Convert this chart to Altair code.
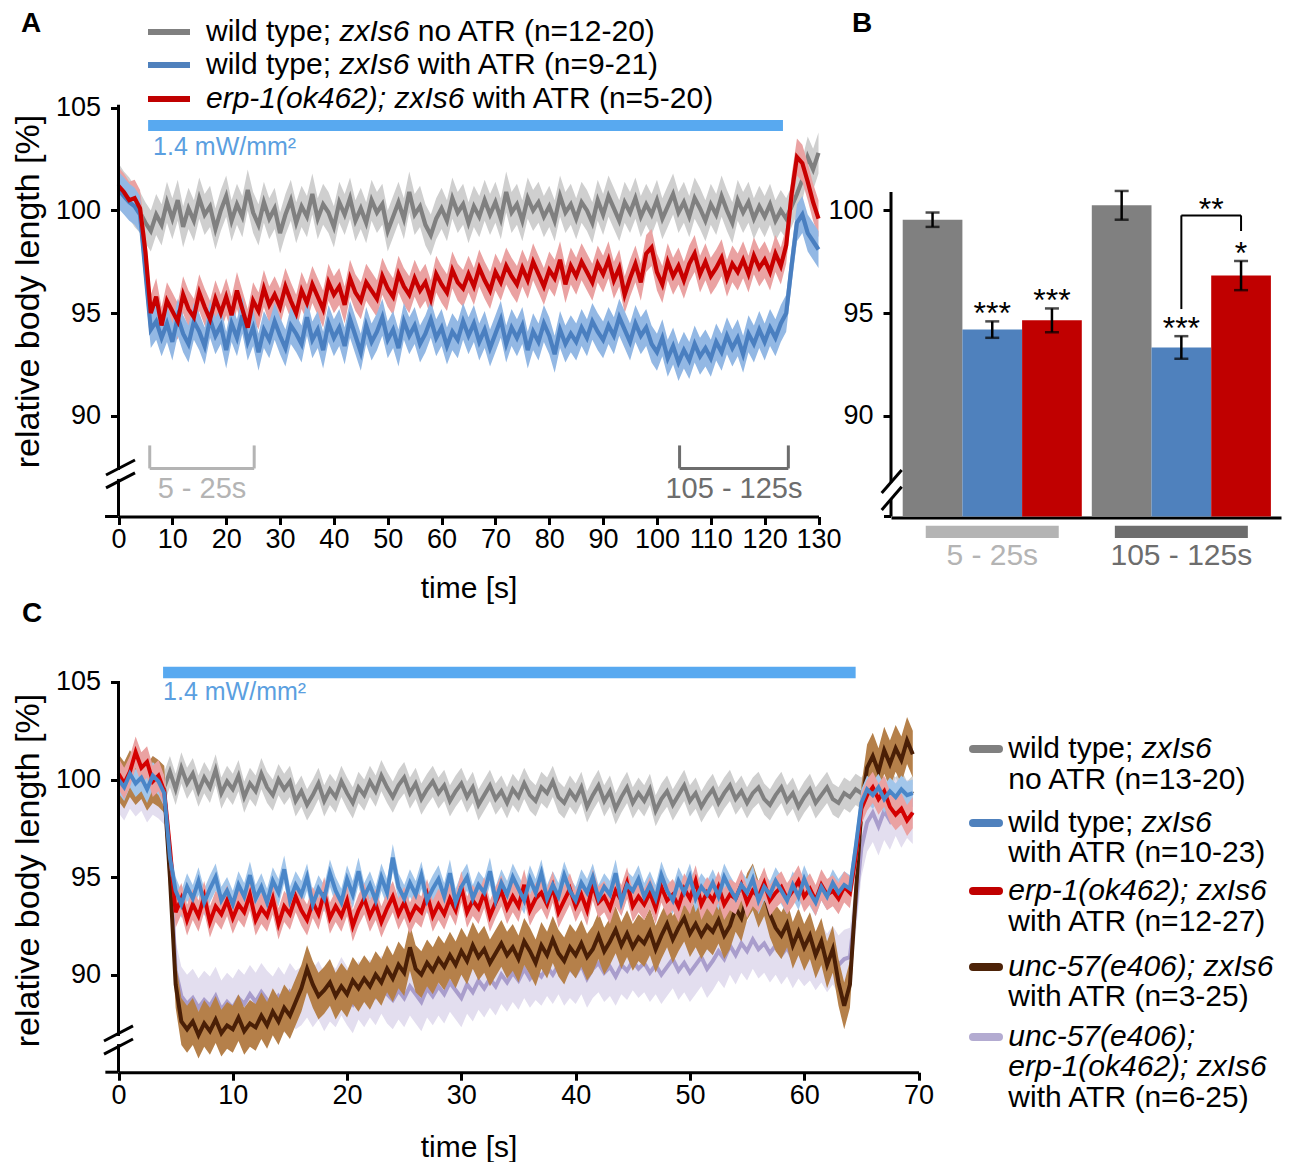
import altair as alt
import pandas as pd

FONT = "Liberation Sans"

# ================= Panel A data (time in s, relative body length in %) =================
time_A = list(range(0, 131))
gray_A = [
    101.3, 100.9, 100.6, 100.2, 99.9,
    99.4, 99.0, 99.8, 99.3, 100.4,
    99.6, 100.5, 99.2, 100.1, 99.5,
    100.6, 99.8, 100.2, 99.1, 100.0,
    100.7, 99.5, 100.3, 99.7, 101.0,
    99.9, 99.3, 100.4, 99.6, 100.1,
    98.9, 99.8, 100.5, 99.4, 100.2,
    99.7, 100.8, 99.6, 100.3, 99.9,
    99.2, 100.4, 99.8, 100.6, 99.5,
    100.1, 99.4, 100.5, 99.9, 100.3,
    99.0, 99.7, 100.4, 99.6, 100.9,
    99.8, 100.2, 99.3, 98.8, 99.6,
    100.1, 99.5, 100.6, 99.9, 100.3,
    99.4, 100.2, 99.7, 100.5, 99.8,
    100.4, 99.6, 100.9, 99.9, 100.3,
    99.5, 100.6, 100.0, 100.4, 99.7,
    100.2, 99.5, 100.7, 99.9, 100.3,
    99.6, 100.4, 100.0, 99.4, 100.5,
    99.8, 100.7, 100.1, 99.5, 100.4,
    99.9, 100.6, 99.7, 100.3, 99.8,
    100.5, 99.6, 100.2, 100.8, 99.9,
    100.4, 99.7, 100.6, 100.1, 99.5,
    100.3, 99.8, 100.7, 100.0, 99.4,
    100.5, 99.9, 100.4, 99.6, 100.2,
    99.7, 100.3, 99.5, 100.0, 99.6,
    100.2, 100.8, 101.5, 102.6, 102.0,
    102.8,
]
blue_A = [
    101.0, 100.7, 100.4, 100.2, 99.8,
    97.0, 94.2, 94.6, 93.8, 94.5,
    93.6, 94.8, 94.0, 93.5, 94.6,
    94.1, 93.4, 94.7, 93.9, 94.4,
    93.2, 94.5, 93.8, 94.9, 93.6,
    94.3, 93.1, 94.2, 93.7, 94.6,
    93.9, 93.3, 94.4, 94.0, 93.5,
    94.8, 93.7, 94.2, 93.2, 94.5,
    93.8, 94.3, 93.4, 94.7, 93.9,
    93.1, 94.4, 93.6, 94.1, 94.8,
    93.7, 94.2, 93.3, 94.6, 93.9,
    94.4, 93.5, 94.0, 94.7, 93.8,
    94.3, 93.4, 94.1, 93.7, 94.6,
    93.9, 94.5, 93.6, 94.2, 93.3,
    94.0, 94.7, 93.5, 94.3, 93.8,
    94.4, 93.2, 94.1, 93.6, 94.5,
    93.9, 93.0, 94.2, 93.5, 94.0,
    93.6, 94.3, 93.8, 94.6, 94.1,
    93.7, 94.4, 93.9, 94.8, 94.2,
    93.6, 94.5, 93.9, 94.3, 93.5,
    93.1, 93.8, 92.8, 93.4, 92.6,
    93.2, 92.7, 93.5, 92.9, 93.3,
    92.8, 93.6, 93.1, 93.9, 93.3,
    93.8, 93.0, 94.0, 93.5, 94.2,
    93.6, 94.3, 93.8, 94.5, 95.0,
    97.3, 99.4, 99.8, 98.9, 98.5,
    98.1,
]
red_A = [
    101.2, 100.9, 100.5, 100.6, 100.1,
    98.0, 95.0, 95.8, 94.4, 95.6,
    95.1, 94.6, 95.9, 95.2, 94.8,
    96.0, 95.3, 94.7, 95.7, 95.0,
    95.8, 94.9, 96.1, 95.2, 94.3,
    95.6, 95.1, 96.2, 95.4, 95.9,
    95.3, 96.3, 95.6, 95.0, 96.1,
    95.5, 96.4, 95.8, 95.2, 96.5,
    95.9, 96.3, 95.4, 96.7, 96.0,
    95.6, 96.5, 96.1, 95.7, 96.8,
    96.2, 95.8, 96.9, 96.3, 95.9,
    96.7, 96.1, 96.5, 95.7, 96.9,
    96.4, 96.0, 97.1, 96.5, 96.2,
    96.9, 96.3, 97.2, 96.6, 96.1,
    97.0, 96.5, 97.3, 96.8, 96.4,
    97.2, 96.6, 97.5, 96.9, 96.3,
    97.1, 96.7, 97.6, 96.4, 97.3,
    96.8, 97.5, 97.0, 96.5, 97.4,
    96.9, 97.6, 96.6, 97.2, 95.9,
    96.7, 97.4, 96.5, 97.9, 98.2,
    97.0, 96.4, 97.5, 96.8, 97.3,
    96.6, 97.4, 97.9, 96.9, 97.5,
    96.8, 97.2, 97.7, 96.7, 97.4,
    97.0, 97.6, 96.9, 97.8, 97.2,
    97.6, 97.0, 97.9, 97.3, 98.3,
    100.8, 102.6, 102.3, 101.4, 100.4,
    99.6,
]
sem_A = {"gray": 1.0, "blue": 0.9, "red": 0.9}
light_A = [5.5, 123.4]
windows_A = [[5.8, 25.2], [104.2, 124.4]]
window_labels = ["5 - 25s", "105 - 125s"]
window_colors = ["#b4b4b4", "#6d6d6d"]

# ================= Panel B data =================
groups_B = ["5 - 25s", "105 - 125s"]
geno_keys = ["gray", "blue", "red"]
mean_B_early = [99.55, 94.20, 94.65]
sem_B_early = [0.35, 0.40, 0.58]
mean_B_late = [100.25, 93.33, 96.83]
sem_B_late = [0.70, 0.55, 0.71]
stars_B_early = ["", "***", "***"]
stars_B_late = ["", "***", "*"]
sig_late = {"left": 95.2, "top": 99.76, "right": 99.0, "label": "**"}

# ================= Panel C data =================
time_C = [i * 0.5 for i in range(140)]
gray_C = [
    100.2, 99.8, 100.5, 100.0, 100.4, 99.7, 100.3, 100.1,
    99.6, 100.4, 99.5, 100.6, 99.8, 100.3, 99.4, 100.1, 99.6, 100.5, 99.3, 99.9,
    99.5, 100.2, 99.1, 99.8, 99.4, 100.3, 99.6, 99.2, 100.0, 99.5, 99.9, 98.9,
    99.4, 98.7, 99.2, 99.8, 98.9, 99.5, 99.1, 99.9, 99.3, 98.8, 99.6, 99.2,
    99.9, 99.4, 100.2, 99.6, 99.1, 99.7, 100.1, 99.3, 99.8, 99.0, 99.5, 99.9,
    99.3, 99.7, 98.9, 99.4, 99.8, 99.1, 99.6, 98.7, 99.2, 99.7, 99.0, 99.4,
    98.8, 99.5, 99.1, 99.8, 99.2, 98.9, 99.6, 99.3, 99.9, 99.1, 98.8, 99.4,
    99.0, 99.6, 98.6, 99.2, 99.7, 98.9, 99.4, 98.5, 99.1, 99.6, 98.8, 99.3,
    98.9, 99.5, 98.4, 99.0, 99.4, 98.7, 99.2, 99.7, 98.9, 99.3, 98.6, 99.1,
    99.5, 98.8, 99.3, 99.7, 99.0, 99.4, 98.8, 99.3, 99.6, 99.0, 98.7, 99.2,
    99.6, 98.9, 99.3, 98.6, 99.1, 99.5, 98.8, 99.2, 99.6, 99.0, 98.8, 99.3,
    99.1, 99.5, 99.3, 99.7, 99.4, 99.8, 99.2, 99.6, 99.3, 99.7, 99.1, 99.4,
]
blue_C = [
    100.0, 99.6, 100.3, 99.8, 100.1, 99.5, 100.2, 99.9,
    99.3, 96.0, 94.3, 93.6, 94.5, 93.9, 94.8, 93.7, 94.4, 95.0, 93.8, 94.3,
    93.6, 94.6, 94.0, 95.1, 93.9, 94.5, 93.7, 94.8, 94.2, 95.4, 93.8, 94.6,
    94.1, 95.0, 93.6, 94.4, 93.9, 95.2, 94.3, 93.7, 94.9, 94.1, 95.3, 94.0,
    94.6, 93.8, 95.0, 94.2, 96.0, 94.5, 93.9, 94.7, 94.1, 95.1, 93.8, 94.4,
    94.9, 94.0, 95.2, 93.7, 94.5, 95.0, 93.9, 94.6, 94.2, 95.3, 93.8, 94.7,
    94.1, 95.0, 94.4, 93.8, 94.9, 94.2, 95.2, 93.9, 94.6, 94.0, 95.1, 94.3,
    93.8, 94.7, 94.2, 95.0, 93.9, 94.5, 94.1, 95.2, 93.7, 94.6, 94.3, 94.9,
    94.0, 94.6, 93.9, 95.1, 94.3, 93.8, 94.8, 94.2, 95.0, 93.9, 94.5, 94.1,
    94.7, 94.0, 95.0, 94.4, 93.9, 94.6, 94.2, 94.9, 93.8, 94.5, 94.1, 94.8,
    94.3, 93.8, 94.6, 94.0, 94.9, 94.2, 93.7, 94.5, 94.0, 94.7, 94.2, 94.6,
    94.4, 96.5, 98.8, 99.5, 99.2, 99.6, 99.0, 99.4, 99.1, 99.5, 99.2, 99.3,
]
red_C = [
    100.3, 99.8, 100.4, 101.4, 100.6, 100.9, 99.9, 100.2,
    99.4, 96.5, 93.2, 93.9, 92.8, 93.6, 93.0, 94.0, 92.7, 93.5, 93.1, 93.8,
    92.9, 93.6, 93.2, 94.1, 92.8, 93.4, 93.0, 93.9, 92.6, 93.5, 93.1, 94.0,
    93.3, 92.8, 93.7, 93.1, 94.2, 92.9, 93.5, 93.0, 93.8, 92.5, 93.3, 93.9,
    93.0, 93.6, 92.7, 93.4, 94.0, 93.1, 93.7, 92.9, 93.5, 93.2, 94.1, 93.0,
    93.6, 93.1, 93.9, 93.3, 94.5, 93.2, 93.8, 93.4, 94.2, 93.0, 93.7, 94.3,
    93.4, 94.0, 93.5, 94.6, 93.3, 93.9, 94.2, 93.6, 94.5, 93.2, 93.8, 94.4,
    93.5, 94.1, 93.3, 94.6, 93.7, 94.0, 93.4, 94.3, 93.8, 94.7, 93.5, 94.0,
    93.6, 94.2, 93.4, 94.5, 93.8, 94.1, 93.5, 94.4, 93.9, 94.8, 93.6, 94.2,
    93.8, 94.5, 93.6, 94.1, 93.9, 94.6, 93.7, 94.3, 94.0, 94.7, 93.8, 94.2,
    94.5, 93.9, 94.3, 94.8, 94.0, 94.4, 93.8, 94.6, 94.1, 94.3, 93.9, 94.5,
    94.2, 96.0, 98.5, 99.2, 99.6, 99.0, 99.4, 98.6, 98.2, 98.5, 97.9, 98.3,
]
brown_C = [
    100.1, 99.7, 100.3, 99.9, 100.2, 99.6, 100.0, 99.8,
    99.5, 95.0, 89.5, 87.6, 87.2, 87.6, 86.9, 87.5, 87.1, 87.7, 87.0, 87.4,
    87.2, 87.8, 87.1, 87.5, 87.3, 87.9, 87.4, 88.1, 87.6, 88.3, 87.9, 88.6,
    89.3, 90.3, 89.5, 88.9, 89.2, 89.6, 88.9, 89.4, 89.0, 89.7, 89.3, 89.8,
    89.4, 90.0, 89.6, 90.3, 89.8, 90.5, 90.1, 91.4, 90.3, 90.0, 90.6, 90.2,
    90.8, 90.4, 91.0, 90.5, 91.2, 90.7, 91.5, 90.9, 91.3, 90.6, 91.1, 91.6,
    91.0, 91.4, 90.8, 91.7, 91.2, 90.6, 91.5, 91.0, 91.8, 91.1, 90.7, 91.4,
    91.0, 91.6, 90.9, 91.3, 92.0, 91.2, 91.7, 92.3, 91.5, 92.1, 91.4, 91.9,
    91.6, 92.2, 91.3, 92.0, 92.6, 91.8, 92.4, 92.9, 92.1, 92.6, 92.0, 92.5,
    92.2, 92.8, 92.0, 92.5, 93.4, 92.9, 94.0, 94.5, 93.6, 94.2, 93.1, 92.4,
    92.0, 92.6, 91.5, 92.2, 91.4, 92.0, 91.0, 91.7, 90.5, 91.3, 89.6, 88.4,
    89.5, 94.0, 98.5, 100.6, 101.2, 100.4, 101.5, 100.8, 101.6, 101.0, 102.0, 101.3,
]
lav_C = [
    99.8, 99.4, 100.0, 99.6, 99.9, 99.3, 99.7, 99.5,
    99.2, 96.0, 90.2, 88.9, 88.5, 88.8, 88.3, 88.7, 88.4, 88.9, 88.2, 88.6,
    88.3, 88.8, 88.5, 89.0, 88.6, 89.1, 88.7, 88.4, 88.9, 88.5, 89.1, 88.7,
    88.9, 89.3, 88.8, 89.2, 88.6, 89.1, 88.8, 89.4, 88.9, 88.5, 89.2, 88.8,
    89.3, 88.9, 89.5, 89.0, 88.7, 89.2, 88.8, 89.4, 89.0, 88.6, 89.3, 88.9,
    89.4, 89.0, 89.6, 89.2, 88.8, 89.5, 89.1, 89.7, 89.3, 89.8, 89.4, 90.0,
    89.6, 90.1, 89.7, 90.3, 89.8, 90.2, 89.9, 90.4, 90.0, 90.5, 89.9, 90.3,
    90.0, 90.5, 89.8, 90.3, 90.6, 90.1, 90.4, 89.9, 90.5, 90.2, 90.7, 90.3,
    90.6, 90.1, 90.5, 90.0, 90.4, 90.8, 90.2, 90.6, 90.1, 90.5, 90.9, 90.3,
    90.7, 91.2, 90.8, 91.5, 91.0, 91.6, 91.2, 91.8, 91.3, 91.6, 91.1, 91.5,
    91.0, 91.4, 90.8, 91.3, 90.9, 91.2, 90.7, 91.1, 90.6, 91.0, 90.5, 90.8,
    90.9, 93.5, 96.5, 97.8, 98.3, 97.6, 98.4, 97.9, 98.6, 98.0, 98.5, 98.2,
]
sem_C = {"gray": 0.8, "blue": 0.7, "red": 0.8, "brown": 1.2, "lav": 1.5}
light_C = [3.9, 64.5]

assert len(gray_A) == len(blue_A) == len(red_A) == len(time_A)
for s in (gray_C, blue_C, red_C, brown_C, lav_C):
    assert len(s) == len(time_C), len(s)

# ================= styling =================
LINE = {"gray": "#808080", "blue": "#4a7fc0", "red": "#c80000"}
BAND = {"gray": "#cfcfcf", "blue": "#93b8e4", "red": "#eaa2a2"}
LINE_C = {"gray": "#808080", "blue": "#4a86c8", "red": "#d40000", "brown": "#4a1f06", "lav": "#a99dcc"}
BAND_C = {"gray": "#cfcfcf", "blue": "#a3c6ea", "red": "#eaa2a2", "brown": "#b5804a", "lav": "#e3deef"}
BAR = {"gray": "#808080", "blue": "#4f81bd", "red": "#c00000"}
LIGHT_BLUE = "#58a9f0"
LIGHT_TEXT = "#5b9fe0"
SW_A = 4.2
SW_C = 4.0

# the whole figure is one view; page margin is 8px, so view px = picture px - 8
M = 8
VIEW_W, VIEW_H = 1284, 1154


def P(v):
    return v - M


Y_A = [85.1, 105.5]
Y_C = [85.0, 105.5]

CW = {' ': 278, '(': 333, ')': 333, '-': 333, ';': 278, '=': 584, '[': 278, ']': 278,
      '%': 889, '.': 278, '/': 278, 'A': 667, 'T': 611, 'R': 722, 'I': 278, 'W': 944,
      'a': 556, 'b': 556, 'c': 500, 'd': 556, 'e': 556, 'g': 556, 'h': 556, 'i': 222,
      'k': 500, 'l': 222, 'm': 833, 'n': 556, 'o': 556, 'p': 556, 'r': 333, 's': 500,
      't': 278, 'u': 556, 'v': 500, 'w': 722, 'x': 500, 'y': 500, 'z': 500}


def text_w(s, size):
    return sum(CW.get(c, 556) for c in s) / 1000.0 * size


def legend_text(lines, x0, ys, size):
    out = []
    for line, y in zip(lines, ys):
        x = x0
        for txt, style in line:
            lead = len(txt) - len(txt.lstrip(" "))
            px = x + text_w(txt[:lead], size)
            out.append(alt.Chart(pd.DataFrame({"t": [txt.strip()]})).mark_text(
                font=FONT, fontSize=size, fontStyle=style, align="left", baseline="middle",
                color="black").encode(x=alt.value(P(px)), y=alt.value(P(y)), text="t:N"))
            x += text_w(txt, size)
    return out


def swatches(xs, ys, colors, width, cap):
    out = []
    for y, c in zip(ys, colors):
        out.append(alt.Chart(pd.DataFrame({"a": [0]})).mark_rule(strokeWidth=width, strokeCap=cap, color=c).encode(
            x=alt.value(P(xs[0])), x2=alt.value(P(xs[1])), y=alt.value(P(y))))
    return out


def label_letter(letter, px, py):
    return alt.Chart(pd.DataFrame({"t": [letter]})).mark_text(
        font=FONT, fontSize=28, fontWeight="bold", align="left", baseline="alphabetic", color="black"
    ).encode(x=alt.value(P(px)), y=alt.value(P(py)), text="t:N")


AX = dict(tickSize=8, tickWidth=3, tickColor="black", labelFont=FONT, labelFontSize=27,
          labelColor="black", titleFont=FONT, titleColor="black", titleFontWeight="normal", grid=False)


def x_axis(values, bottom_px, title, title_y):
    return alt.Axis(orient="bottom", offset=P(bottom_px) - VIEW_H, values=values, domainWidth=3,
                    domainColor="black", labelPadding=2, labelOverlap=False, labelFlush=False,
                    title=title, titleFontSize=30, titleX=P(468.5), titleY=title_y,
                    titleBaseline="middle", titleAlign="center", **AX)


def y_axis(values, left_px, title=None, title_center=None):
    if title:
        kw = dict(title=title, titleFontSize=34, titleAngle=270, titleX=P(28) - P(left_px),
                  titleY=P(title_center), titleAlign="center", titleBaseline="middle")
    else:
        kw = dict(title=None)
    return alt.Axis(orient="left", offset=-P(left_px), values=values, domain=False, labelPadding=10, **kw, **AX)


class Panel:
    def __init__(self, xdom, xpx, ydom, ypx, xaxis, yaxis):
        # xpx / ypx: picture pixels of the plot area (left, right) and (bottom, top)
        self.left = xpx[0]
        self.ymin = ydom[0]
        self.xs = alt.Scale(domain=xdom, range=[P(xpx[0]), P(xpx[1])], nice=False, zero=False)
        self.ys = alt.Scale(domain=ydom, range=[P(ypx[0]), P(ypx[1])], nice=False, zero=False)
        self.xa, self.ya = xaxis, yaxis

    def X(self, f):
        return alt.X(f, scale=self.xs, axis=self.xa)

    def Y(self, f):
        return alt.Y(f, scale=self.ys, axis=self.ya)

    def trace(self, t, vals, sem, line_c, band_c, sw):
        df = pd.DataFrame({"t": t, "m": vals, "lo": [v - sem for v in vals], "hi": [v + sem for v in vals]})
        band = alt.Chart(df).mark_area(color=band_c, opacity=1).encode(x=self.X("t:Q"), y=self.Y("lo:Q"), y2="hi:Q")
        line = alt.Chart(df).mark_line(color=line_c, strokeWidth=sw, strokeJoin="miter").encode(
            x=self.X("t:Q"), y=self.Y("m:Q"))
        return band, line

    def axis_line(self, segs, x_ext):
        df = pd.DataFrame({"y1": [s[0] for s in segs], "y2": [s[1] for s in segs]})
        vline = alt.Chart(df).mark_rule(color="black", strokeWidth=3).encode(
            x=alt.value(P(self.left)), y=self.Y("y1:Q"), y2="y2:Q")
        ext = alt.Chart(pd.DataFrame({"a": [x_ext], "y": [self.ymin]})).mark_rule(color="black", strokeWidth=3).encode(
            x=self.X("a:Q"), x2=alt.value(P(self.left)), y=self.Y("y:Q"))
        return vline, ext

    def slashes(self, rows):
        df = pd.DataFrame(rows, columns=["x1", "x2", "y1", "y2"])
        return alt.Chart(df).mark_rule(color="black", strokeWidth=3).encode(
            x=self.X("x1:Q"), x2="x2:Q", y=self.Y("y1:Q"), y2="y2:Q")

    def light(self, span, ytop, ybot, ytxt, dx):
        df = pd.DataFrame({"a": [span[0]], "b": [span[1]], "y1": [ytop], "y2": [ybot], "yt": [ytxt],
                           "t": ["1.4 mW/mm²"]})
        bar = alt.Chart(df).mark_rect(color=LIGHT_BLUE).encode(x=self.X("a:Q"), x2="b:Q", y=self.Y("y1:Q"), y2="y2:Q")
        txt = alt.Chart(df).mark_text(font=FONT, fontSize=25, color=LIGHT_TEXT, align="left",
                                      baseline="middle", dx=dx).encode(x=self.X("a:Q"), y=self.Y("yt:Q"), text="t:N")
        return bar, txt


# ================= Panel A =================
pA = Panel([0, 130], [118.5, 818.5], Y_A, [516.5, 97.5],
           x_axis(list(range(0, 131, 10)), 516.5, "time [s]", 71.5),
           y_axis([90, 95, 100, 105], 118.5, "relative body length [%]", 291))

gA_b, gA_l = pA.trace(time_A, gray_A, sem_A["gray"], LINE["gray"], BAND["gray"], SW_A)
bA_b, bA_l = pA.trace(time_A, blue_A, sem_A["blue"], LINE["blue"], BAND["blue"], SW_A)
rA_b, rA_l = pA.trace(time_A, red_A, sem_A["red"], LINE["red"], BAND["red"], SW_A)
lightA, lightA_txt = pA.light(light_A, 104.40, 103.87, 103.09, 5)

win_df = pd.DataFrame({"a": [w[0] for w in windows_A], "b": [w[1] for w in windows_A],
                       "mid": [(w[0] + w[1]) / 2 for w in windows_A], "lab": window_labels,
                       "c": window_colors, "top": [88.56] * 2, "bot": [87.44] * 2, "ty": [86.44] * 2})
win_h = alt.Chart(win_df).mark_rule(strokeWidth=3).encode(
    x=pA.X("a:Q"), x2="b:Q", y=pA.Y("bot:Q"), color=alt.Color("c:N", scale=None, legend=None))
win_l = alt.Chart(win_df).mark_rule(strokeWidth=3).encode(
    x=pA.X("a:Q"), y=pA.Y("top:Q"), y2="bot:Q", color=alt.Color("c:N", scale=None, legend=None))
win_r = alt.Chart(win_df).mark_rule(strokeWidth=3).encode(
    x=pA.X("b:Q"), y=pA.Y("top:Q"), y2="bot:Q", color=alt.Color("c:N", scale=None, legend=None))
win_t = alt.Chart(win_df).mark_text(font=FONT, fontSize=29, baseline="middle", align="center").encode(
    x=pA.X("mid:Q"), y=pA.Y("ty:Q"), text="lab:N", color=alt.Color("c:N", scale=None, legend=None))

axisA, extA = pA.axis_line([(105.15, 87.37), (86.93, Y_A[0])], -2.5)
slashA = pA.slashes([(-2.32, 3.06, 87.12, 87.85), (-2.32, 3.06, 86.49, 87.22)])

legA_lines = [
    [("wild type; ", "normal"), ("zxIs6", "italic"), (" no ATR (n=12-20)", "normal")],
    [("wild type; ", "normal"), ("zxIs6", "italic"), (" with ATR (n=9-21)", "normal")],
    [("erp-1(ok462); zxIs6", "italic"), (" with ATR (n=5-20)", "normal")],
]
legA_y = [32, 65, 99]
legA = legend_text(legA_lines, 206, legA_y, 30)
swA = swatches([148, 190], legA_y, [BAR["gray"], BAR["blue"], BAR["red"]], 6, "butt")

panelA = alt.layer(
    gA_b, gA_l, rA_b, bA_b, bA_l, rA_l, lightA, lightA_txt,
    win_h, win_l, win_r, win_t, axisA, extA, slashA, *swA, *legA,
    label_letter("A", 21, 32),
)

# ================= Panel B =================
BAR_W, LEFT, GAP = 59.7, 11.7, 10.0
pB = Panel([0, 390], [891, 1281], Y_A, [516.5, 97.5],
           alt.Axis(orient="bottom", offset=P(517.5) - VIEW_H, domain=True, domainWidth=3, domainColor="black",
                    ticks=False, labels=False, title=None, grid=False),
           y_axis([90, 95, 100], 891))

rowsB = []
group_rows = []
for g, (grp, means, sems, stars) in enumerate([
        (groups_B[0], mean_B_early, sem_B_early, stars_B_early),
        (groups_B[1], mean_B_late, sem_B_late, stars_B_late)]):
    gx = LEFT + g * (3 * BAR_W + GAP)
    group_rows.append({"group": grp, "a": gx + 1.5 * BAR_W - 66.5, "b": gx + 1.5 * BAR_W + 66.5,
                       "mid": gx + 1.5 * BAR_W, "c": window_colors[g], "y1": 84.65, "y2": 84.05, "yt": 83.2})
    for k, key in enumerate(geno_keys):
        x0 = gx + k * BAR_W
        rowsB.append({"group": grp, "geno": key, "c": BAR[key], "x0": x0, "x1": x0 + BAR_W,
                      "xc": x0 + BAR_W / 2, "m": means[k], "lo": means[k] - sems[k],
                      "hi": means[k] + sems[k], "star": stars[k], "base": Y_A[0]})
dfB = pd.DataFrame(rowsB)
dfG = pd.DataFrame(group_rows)

barsB = alt.Chart(dfB).mark_rect().encode(
    x=pB.X("x0:Q"), x2="x1:Q", y=pB.Y("m:Q"), y2="base:Q", color=alt.Color("c:N", scale=None, legend=None))
errB = alt.Chart(dfB).mark_rule(color="black", strokeWidth=2.5).encode(x=pB.X("xc:Q"), y=pB.Y("lo:Q"), y2="hi:Q")
capHi = alt.Chart(dfB).mark_tick(color="black", orient="horizontal", size=14, thickness=2.5).encode(
    x=pB.X("xc:Q"), y=pB.Y("hi:Q"))
capLo = alt.Chart(dfB).mark_tick(color="black", orient="horizontal", size=14, thickness=2.5).encode(
    x=pB.X("xc:Q"), y=pB.Y("lo:Q"))
starsB = alt.Chart(dfB[dfB.star != ""]).mark_text(font=FONT, fontSize=32, baseline="alphabetic", align="center",
                                                  dy=3, color="black").encode(
    x=pB.X("xc:Q"), y=pB.Y("hi:Q"), text="star:N")

xb2 = float(dfB[(dfB.group == groups_B[1]) & (dfB.geno == "blue")].xc.iloc[0])
xr2 = float(dfB[(dfB.group == groups_B[1]) & (dfB.geno == "red")].xc.iloc[0])
sig_df = pd.DataFrame({"x1": [xb2, xb2, xr2], "x2": [xb2, xr2, xr2],
                       "y1": [sig_late["left"], sig_late["top"], sig_late["top"]],
                       "y2": [sig_late["top"], sig_late["top"], sig_late["right"]]})
sigB = alt.Chart(sig_df).mark_rule(color="black", strokeWidth=2).encode(
    x=pB.X("x1:Q"), x2="x2:Q", y=pB.Y("y1:Q"), y2="y2:Q")
sigT = alt.Chart(pd.DataFrame({"x": [(xb2 + xr2) / 2], "y": [sig_late["top"]], "t": [sig_late["label"]]})).mark_text(
    font=FONT, fontSize=32, baseline="alphabetic", align="center", dy=5, color="black").encode(
    x=pB.X("x:Q"), y=pB.Y("y:Q"), text="t:N")

grpRect = alt.Chart(dfG).mark_rect().encode(
    x=pB.X("a:Q"), x2="b:Q", y=pB.Y("y1:Q"), y2="y2:Q", color=alt.Color("c:N", scale=None, legend=None))
grpText = alt.Chart(dfG).mark_text(font=FONT, fontSize=30, baseline="middle", align="center").encode(
    x=pB.X("mid:Q"), y=pB.Y("yt:Q"), text="group:N", color=alt.Color("c:N", scale=None, legend=None))

axisB, extB = pB.axis_line([(100.9, 86.75), (85.95, Y_A[0])], -7)
slashB = pB.slashes([(-9.3, 10.7, 86.24, 87.36), (-9.3, 10.7, 85.42, 86.55)])

panelB = alt.layer(
    barsB, errB, capHi, capLo, starsB, sigB, sigT, grpRect, grpText, axisB, extB, slashB,
    label_letter("B", 852, 32),
)

# ================= Panel C =================
pC = Panel([0, 70], [118.5, 918.5], Y_C, [1072.2, 672.2],
           x_axis(list(range(0, 71, 10)), 1072.2, "time [s]", 74.8),
           y_axis([90, 95, 100, 105], 118.5, "relative body length [%]", 870))

layersC = []
for key, vals in [("gray", gray_C), ("lav", lav_C), ("brown", brown_C)]:
    layersC.extend(pC.trace(time_C, vals, sem_C[key], LINE_C[key], BAND_C[key], SW_C))
bC_b, bC_l = pC.trace(time_C, blue_C, sem_C["blue"], LINE_C["blue"], BAND_C["blue"], SW_C)
rC_b, rC_l = pC.trace(time_C, red_C, sem_C["red"], LINE_C["red"], BAND_C["red"], SW_C)
layersC.extend([bC_b, rC_b, rC_l, bC_l])
lightC, lightC_txt = pC.light(light_C, 105.78, 105.19, 104.5, 0)

axisC, extC = pC.axis_line([(105.05, 86.85), (86.44, Y_C[0])], -1.15)
slashC = pC.slashes([(-1.27, 1.27, 86.60, 87.37), (-1.27, 1.27, 85.93, 86.70)])

legC_lines = [
    [("wild type; ", "normal"), ("zxIs6", "italic")],
    [("no ATR (n=13-20)", "normal")],
    [("wild type; ", "normal"), ("zxIs6", "italic")],
    [("with ATR (n=10-23)", "normal")],
    [("erp-1(ok462); zxIs6", "italic")],
    [("with ATR (n=12-27)", "normal")],
    [("unc-57(e406); zxIs6", "italic")],
    [("with ATR (n=3-25)", "normal")],
    [("unc-57(e406);", "italic")],
    [("erp-1(ok462); zxIs6", "italic")],
    [("with ATR (n=6-25)", "normal")],
]
legC_y = [749, 780, 823, 853, 891, 922, 967, 997, 1037, 1067, 1098]
legC = legend_text(legC_lines, 1008.3, legC_y, 30)
swC = swatches([973, 999], [legC_y[i] for i in (0, 2, 4, 6, 8)],
               ["#808080", "#4f81bd", "#c00000", "#4d2308", "#b3abd1"], 8, "round")

panelC = alt.layer(
    *layersC, lightC, lightC_txt, axisC, extC, slashC, *swC, *legC,
    label_letter("C", 22, 621.7),
)

chart = alt.layer(panelA, panelB, panelC).resolve_scale(
    x="independent", y="independent"
).resolve_axis(
    x="independent", y="independent"
).properties(
    width=VIEW_W, height=VIEW_H, padding=0, background="white",
).configure_view(stroke=None).configure_axis(grid=False)

chart.save("out.html", embed_options={"renderer": "svg", "actions": False})
